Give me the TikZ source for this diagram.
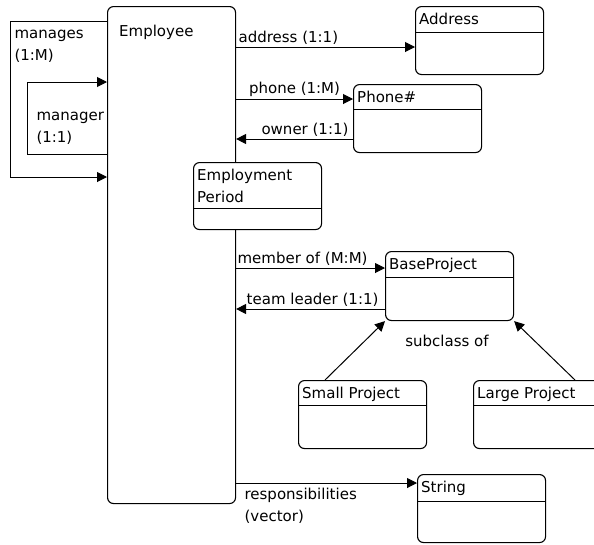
\documentclass[tikz,border=0pt]{standalone}
\usepackage{fontspec}
\setmainfont{DejaVu Sans}
\usetikzlibrary{arrows.meta,positioning,calc}

\begin{document}
\begin{tikzpicture}[x=1pt, y=-1pt,
  every node/.style={font=\fontsize{15}{22}\selectfont},
  title/.style={anchor=north west, inner xsep=4pt, inner ysep=6.5pt, align=left},
  box/.style={draw, fill=white, line width=1.1pt, rounded corners=6pt, anchor=north west,
              inner sep=0pt, minimum width=128pt, minimum height=68pt},
  cls/.style 2 args={box, label={[title]north west:#1},
    path picture={\draw[line width=1.1pt] ([yshift=-#2]path picture bounding box.north west)
                  -- ([yshift=-#2]path picture bounding box.north east);}},
  wire/.style={line width=1pt},
  arr/.style={wire, -{Triangle[length=10pt, width=10pt]}},
  lbl/.style={inner sep=2pt, align=left}
]
\useasboundingbox (0,0) rectangle (594,544);

% ---- classes ----
\node[box, minimum height=497pt,
      label={[title, inner xsep=12pt, inner ysep=19pt]north west:Employee}] (emp) at (107,6) {};
\node[cls={Address}{26pt}] (addr) at (415,6) {};
\node[cls={Phone\#}{25pt}] (phone) at (353,84) {};
\node[cls={Employment\\Period}{46pt}, minimum height=67pt] (period) at (193,162) {};
\node[cls={BaseProject}{26pt}, minimum height=69pt] (base) at (385,251) {};
\node[cls={Small Project}{25pt}] (small) at (298,380) {};
\node[cls={Large Project}{25pt}] (large) at (473,380) {};
\node[cls={String}{27pt}] (str) at (417,474) {};

% ---- self associations on the left ----
\draw[arr] (emp.west |- 0,21) -- (10,21) node[below right, lbl, inner xsep=4pt, inner ysep=9pt] {manages\\(1:M)}
  -- (10,177) -- (emp.west |- 0,177);
\draw[arr] (emp.west |- 0,154) -- (27,154) -- (27,82) node[below right, lbl, inner xsep=9pt, inner ysep=30pt] {manager\\(1:1)}
  -- (emp.west |- 0,82);

% ---- associations to the right ----
\draw[arr] (emp.east |- 0,47) -- (addr.west |- 0,47) node[pos=0, above right, lbl] {address (1:1)};
\draw[arr] (emp.east |- 0,99) -- (phone.west |- 0,99) node[midway, above, lbl] {phone (1:M)};
\draw[arr] (phone.west |- 0,139) -- (emp.east |- 0,139) node[pos=0, above left, lbl, inner xsep=4pt] {owner (1:1)};
\draw[arr] (emp.east |- 0,268) -- (base.west |- 0,268) node[pos=0, above right, lbl, inner xsep=1pt] {member of (M:M)};
\draw[arr] (base.west |- 0,309) -- (emp.east |- 0,309) node[pos=0, above left, lbl, inner xsep=6pt] {team leader (1:1)};
\draw[arr] (emp.east |- 0,483) -- (str.west |- 0,483)
  node[pos=0, below right, lbl, inner xsep=8pt, inner ysep=5pt] {responsibilities\\(vector)};

% ---- subclasses ----
\draw[arr] (small.north -| 325,0) -- (base.south west);
\draw[arr] (large.north -| 575,0) -- (base.south east);
\node (subcl) at (447,341) {subclass of};

\end{tikzpicture}
\end{document}
